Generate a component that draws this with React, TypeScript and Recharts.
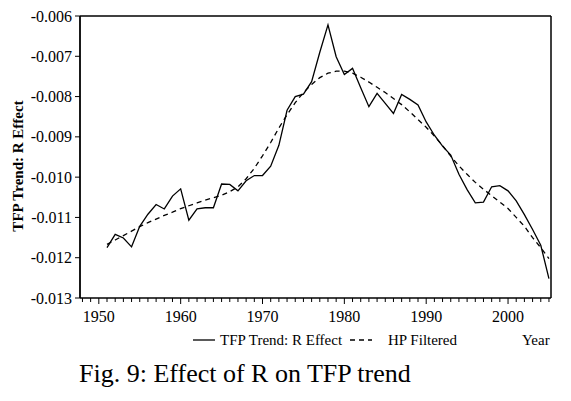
import React from 'react';
import { LineChart, Line, XAxis, YAxis, ReferenceLine } from 'recharts';

const years = [
  1951, 1952, 1953, 1954, 1955, 1956, 1957, 1958, 1959, 1960,
  1961, 1962, 1963, 1964, 1965, 1966, 1967, 1968, 1969, 1970,
  1971, 1972, 1973, 1974, 1975, 1976, 1977, 1978, 1979, 1980,
  1981, 1982, 1983, 1984, 1985, 1986, 1987, 1988, 1989, 1990,
  1991, 1992, 1993, 1994, 1995, 1996, 1997, 1998, 1999, 2000,
  2001, 2002, 2003, 2004, 2005,
];

const tfpTrend = [
  -0.01175, -0.01142, -0.01151, -0.01173, -0.01122, -0.01092, -0.01068, -0.01079, -0.01047, -0.01029,
  -0.01107, -0.01079, -0.01076, -0.01076, -0.01017, -0.01018, -0.01034, -0.01009, -0.00996, -0.00996,
  -0.00973, -0.00921, -0.00834, -0.00800, -0.00794, -0.00763, -0.00690, -0.00622, -0.00701, -0.00745,
  -0.00730, -0.00778, -0.00825, -0.00792, -0.00817, -0.00842, -0.00795, -0.00807, -0.00821, -0.00863,
  -0.00896, -0.00923, -0.00945, -0.00993, -0.01031, -0.01064, -0.01062, -0.01024, -0.01021, -0.01034,
  -0.01059, -0.01093, -0.01130, -0.01169, -0.01252,
];

const hpFiltered = [
  -0.01167, -0.01156, -0.01145, -0.01134, -0.01123, -0.01113, -0.01104, -0.01095, -0.01087, -0.01078,
  -0.01071, -0.01064, -0.01057, -0.01051, -0.01045, -0.01036, -0.01024, -0.01004, -0.00978, -0.00947,
  -0.00914, -0.00878, -0.00845, -0.00815, -0.00790, -0.00770, -0.00753, -0.00742, -0.00737, -0.00737,
  -0.00742, -0.00752, -0.00764, -0.00777, -0.00790, -0.00805, -0.00820, -0.00838, -0.00857, -0.00876,
  -0.00898, -0.00922, -0.00948, -0.00972, -0.00993, -0.01013, -0.01030, -0.01046, -0.01062, -0.01078,
  -0.01100, -0.01122, -0.01150, -0.01175, -0.01202,
];

const xTicks = [
  1948, 1949, 1950, 1951, 1952, 1953, 1954, 1955, 1956, 1957, 1958, 1959,
  1960, 1961, 1962, 1963, 1964, 1965, 1966, 1967, 1968, 1969,
  1970, 1971, 1972, 1973, 1974, 1975, 1976, 1977, 1978, 1979,
  1980, 1981, 1982, 1983, 1984, 1985, 1986, 1987, 1988, 1989,
  1990, 1991, 1992, 1993, 1994, 1995, 1996, 1997, 1998, 1999,
  2000, 2001, 2002, 2003, 2004, 2005,
];
const yTicks = [-0.013, -0.012, -0.011, -0.01, -0.009, -0.008, -0.007, -0.006];

const seriesNames = ['TFP Trend: R Effect', 'HP Filtered'];
const yAxisTitle = 'TFP Trend: R Effect';
const xAxisTitle = 'Year';
const caption = 'Fig. 9: Effect of R on TFP trend';

const data = years.map((y, i) => ({ year: y, trend: tfpTrend[i], hp: hpFiltered[i] }));

const FONT = "'Liberation Serif', 'Times New Roman', serif";
const serif = { fontFamily: FONT };

const XTick = (props: any) => {
  const { x, y, payload } = props;
  const v = payload.value;
  const major = v % 10 === 0;
  return (
    <g>
      <line x1={x} x2={x} y1={y} y2={y + (major ? 6 : 4)} stroke="#000" strokeWidth={1} />
      {major && (
        <text x={x} y={y + 24} textAnchor="middle" fill="#000" fontSize={16} style={serif}>
          {v}
        </text>
      )}
    </g>
  );
};

const YTick = (props: any) => {
  const { x, y, payload } = props;
  return (
    <g>
      <line x1={x} x2={x + 5} y1={y} y2={y} stroke="#000" strokeWidth={1} />
      <text x={x - 3} y={y + 5.5} textAnchor="end" fill="#000" fontSize={16} style={serif}>
        {Number(payload.value).toFixed(3)}
      </text>
    </g>
  );
};

export default function App() {
  return (
    <div style={{ position: 'absolute', left: 0, top: 0, width: 571, height: 401, background: '#fff', fontFamily: FONT }}>
      <LineChart
        width={571}
        height={401}
        data={data}
        margin={{ top: 16, right: 20, left: 0, bottom: 0 }}
        style={serif}
      >
        <XAxis
          dataKey="year"
          type="number"
          domain={[1947.7, 2005.25]}
          ticks={xTicks}
          interval={0}
          height={103}
          tickSize={0}
          tickMargin={0}
          tickLine={false}
          tick={<XTick />}
          axisLine={{ stroke: '#000', strokeWidth: 1.5 }}
          allowDataOverflow
        />
        <YAxis
          type="number"
          domain={[-0.013, -0.006]}
          ticks={yTicks}
          interval={0}
          width={80}
          tickSize={5}
          tickMargin={0}
          tickLine={false}
          tick={<YTick />}
          axisLine={{ stroke: '#000', strokeWidth: 1.8 }}
          allowDataOverflow
        />
        <ReferenceLine y={-0.006} stroke="#000" strokeWidth={1.5} />
        <ReferenceLine x={2005.25} stroke="#000" strokeWidth={1.5} />
        <Line
          dataKey="trend"
          name={seriesNames[0]}
          type="linear"
          stroke="#000"
          strokeWidth={1.3}
          dot={false}
          isAnimationActive={false}
        />
        <Line
          dataKey="hp"
          name={seriesNames[1]}
          type="linear"
          stroke="#000"
          strokeWidth={1.3}
          strokeDasharray="5 4"
          dot={false}
          isAnimationActive={false}
        />
      </LineChart>
      <svg
        width={571}
        height={401}
        style={{ position: 'absolute', left: 0, top: 0, pointerEvents: 'none' }}
      >
        <text
          transform="translate(23,166) rotate(-90)"
          textAnchor="middle"
          fontWeight="bold"
          fontSize={15}
          fill="#000"
          style={serif}
        >
          {yAxisTitle}
        </text>
        <line x1={193} x2={215} y1={340} y2={340} stroke="#000" strokeWidth={1.3} />
        <text x={220} y={345} fontSize={15} fill="#000" style={serif}>
          {seriesNames[0]}
        </text>
        <line x1={350} x2={372} y1={340} y2={340} stroke="#000" strokeWidth={1.3} strokeDasharray="5 4" />
        <text x={388} y={345} fontSize={15} fill="#000" style={serif}>
          {seriesNames[1]}
        </text>
        <text x={522} y={345} fontSize={15} fill="#000" style={serif}>
          {xAxisTitle}
        </text>
        <text x={79} y={382} fontSize={26} fill="#000" style={serif}>
          {caption}
        </text>
      </svg>
    </div>
  );
}
